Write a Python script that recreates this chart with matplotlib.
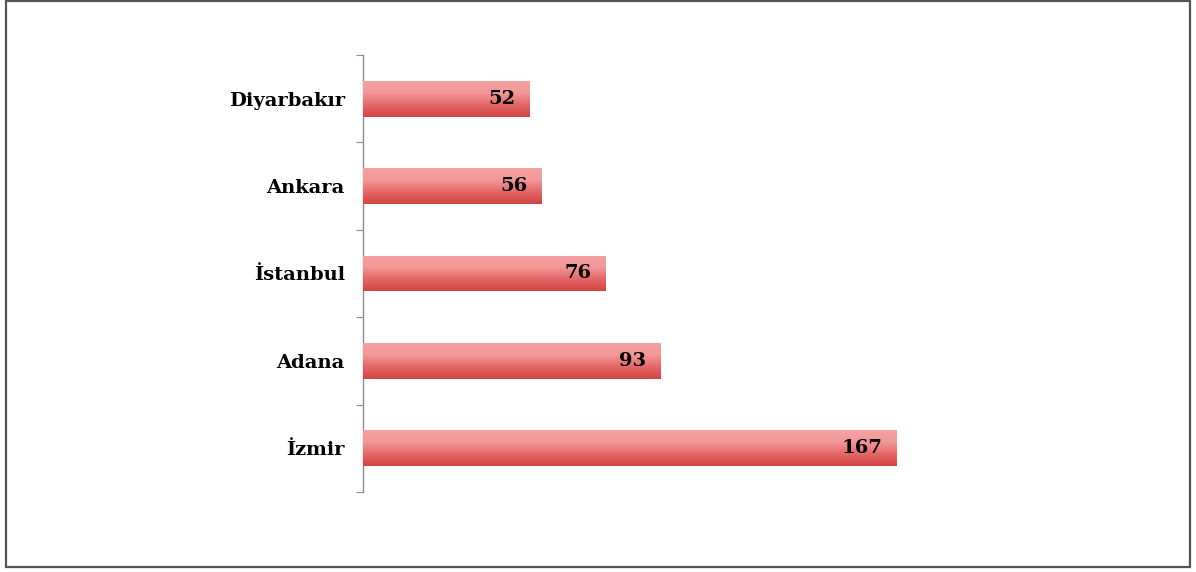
import numpy as np
import matplotlib
matplotlib.use('Agg')
import matplotlib.pyplot as plt
from matplotlib.colors import LinearSegmentedColormap
from matplotlib.patches import Rectangle

# city counts, bottom to top
cities = ['İzmir', 'Adana', 'İstanbul', 'Ankara', 'Diyarbakır']
counts = [167, 93, 76, 56, 52]

W, H = 1196, 572
fig = plt.figure(figsize=(W / 100, H / 100), dpi=100)

# outer frame
fig.patches.append(Rectangle((6 / W, 5 / H), 1184 / W, 566 / H,
                             transform=fig.transFigure, fill=False,
                             edgecolor='#555555', linewidth=1.6))

ax = fig.add_axes([363 / W, (H - 492) / H, 575 / W, 437 / H])
ax.set_xlim(0, 180)
ax.set_ylim(-0.5, len(cities) - 0.5)

y = np.arange(len(cities))
bars = ax.barh(y, counts, height=0.41, color='#e87878', zorder=2)

# vertical gradient inside each bar (light top, darker bottom)
cmap = LinearSegmentedColormap.from_list(
    'redgrad', ['#d44242', '#e46666', '#f29898', '#f5a2a2'])
grad = np.linspace(0, 1, 256).reshape(-1, 1)
for b in bars:
    x0, y0 = b.get_x(), b.get_y()
    im = ax.imshow(grad, cmap=cmap, aspect='auto', origin='lower',
                   extent=(x0, x0 + b.get_width(), y0, y0 + b.get_height()),
                   zorder=3)
    im.set_clip_path(b)

for yi, v in zip(y, counts):
    ax.annotate(str(v), xy=(v, yi), xytext=(-10, 0), textcoords='offset points',
                ha='right', va='center', fontsize=14, fontweight='bold',
                family='DejaVu Serif', color='black', zorder=4)

ax.set_xlim(0, 180)
ax.set_ylim(-0.5, len(cities) - 0.5)

for s in ['top', 'right', 'bottom']:
    ax.spines[s].set_visible(False)
ax.spines['left'].set_color('#8c8c8c')
ax.spines['left'].set_linewidth(1.0)
ax.set_xticks([])

ax.set_yticks(np.arange(-0.5, len(cities), 1.0))
ax.set_yticklabels([])
ax.tick_params(axis='y', which='major', length=5, color='#8c8c8c', direction='out')
ax.set_yticks(y, minor=True)
ax.set_yticklabels(cities, minor=True, fontsize=14, fontweight='bold',
                   family='DejaVu Serif')
ax.tick_params(axis='y', which='minor', length=0, pad=13)

fig.savefig('out.png', dpi=100)
